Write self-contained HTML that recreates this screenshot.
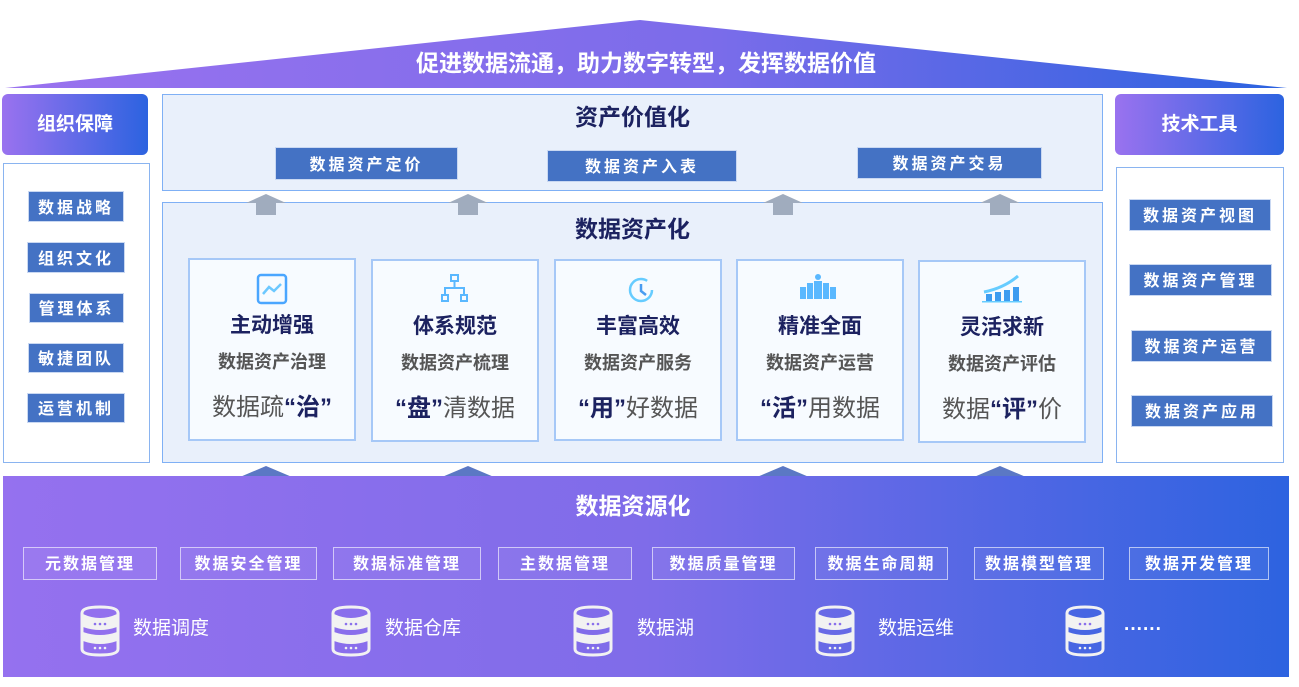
<!DOCTYPE html>
<html><head><meta charset="utf-8"><style>
*{margin:0;padding:0;box-sizing:border-box}
body{width:1299px;height:687px;background:#fff;position:relative;overflow:hidden;font-family:"Liberation Sans","Noto Sans CJK SC",sans-serif}
.a{position:absolute}
.c{display:flex;align-items:center;justify-content:center;text-align:center}
.gb{background:linear-gradient(90deg,#9a72ef,#2c63e0);border-radius:6px;color:#fff;font-weight:bold;font-size:19px;padding-bottom:4px}
.lb{border:1px solid #8ab4f0;background:#fff}
.bt{background:#4472c4;color:#fff;font-weight:bold;font-size:16px;letter-spacing:3px;border:1px solid #c9d8f2;padding-bottom:2px}
.card{border:2px solid #a6c8f7;background:#f7fbff}
.card .t1{position:absolute;left:0;right:0;top:49px;font-size:21px;font-weight:bold;color:#1c2260;text-align:center}
.card .t2{position:absolute;left:0;right:0;top:88px;font-size:18px;font-weight:bold;color:#555;text-align:center}
.card .t3{position:absolute;left:0;right:0;top:127px;font-size:24px;color:#555;text-align:center;white-space:nowrap}
.card .t3 b{color:#1c2260}
.wb{border:1px solid rgba(255,255,255,.6);color:#fff;font-weight:bold;font-size:16px;letter-spacing:2px;background:rgba(255,255,255,.06);padding-bottom:3px}
.dbt{color:#fff;font-size:19px}
</style></head><body>
<svg class="a" style="left:0;top:0" width="1299" height="90">
<defs><linearGradient id="g" x1="0" x2="1"><stop offset="0" stop-color="#9a72ef"/><stop offset="0.55" stop-color="#7b6cea"/><stop offset="1" stop-color="#2c63e0"/></linearGradient></defs>
<polygon points="5,88 640,20 1287,88" fill="url(#g)"/>
</svg>
<div class="a c" style="left:0;width:1292px;top:45px;height:32px;color:#fff;font-weight:bold;font-size:23px">促进数据流通，助力数字转型，发挥数据价值</div>

<div class="a c gb" style="left:2px;top:94px;width:146px;height:61px">组织保障</div>
<div class="a lb" style="left:3px;top:163px;width:147px;height:300px"></div>
<div class="a c bt" style="left:28px;top:191px;width:96px;height:31px">数据战略</div>
<div class="a c bt" style="left:27px;top:242px;width:98px;height:31px">组织文化</div>
<div class="a c bt" style="left:29px;top:293px;width:95px;height:30px">管理体系</div>
<div class="a c bt" style="left:28px;top:343px;width:96px;height:30px">敏捷团队</div>
<div class="a c bt" style="left:27px;top:393px;width:98px;height:30px">运营机制</div>

<div class="a c gb" style="left:1115px;top:94px;width:169px;height:61px">技术工具</div>
<div class="a lb" style="left:1116px;top:167px;width:168px;height:296px"></div>
<div class="a c bt" style="left:1129px;top:199px;width:142px;height:32px">数据资产视图</div>
<div class="a c bt" style="left:1129px;top:264px;width:143px;height:32px">数据资产管理</div>
<div class="a c bt" style="left:1131px;top:330px;width:141px;height:32px">数据资产运营</div>
<div class="a c bt" style="left:1131px;top:395px;width:142px;height:32px">数据资产应用</div>

<div class="a" style="left:162px;top:94px;width:941px;height:97px;background:#e9f0fb;border:1px solid #7fb0f5"></div>
<div class="a c" style="left:162px;width:941px;top:99px;height:32px;font-size:23px;font-weight:bold;color:#1c2260">资产价值化</div>
<div class="a c bt" style="left:275px;top:147px;width:183px;height:33px">数据资产定价</div>
<div class="a c bt" style="left:547px;top:150px;width:190px;height:32px">数据资产入表</div>
<div class="a c bt" style="left:857px;top:147px;width:185px;height:32px">数据资产交易</div>

<div class="a" style="left:162px;top:202px;width:941px;height:261px;background:#e9f0fb;border:1px solid #7fb0f5"></div>
<div class="a c" style="left:162px;width:941px;top:211px;height:32px;font-size:23px;font-weight:bold;color:#1c2260">数据资产化</div>

<svg class="a" style="left:0;top:190px" width="1299" height="30">
<g fill="#a0acbe">
<polygon points="246,13 266,4 286,13 276,13 276,25 256,25 256,13"/>
<polygon points="448,13 468,4 488,13 478,13 478,25 458,25 458,13"/>
<polygon points="763,13 783,4 803,13 793,13 793,25 773,25 773,13"/>
<polygon points="980,13 1000,4 1020,13 1010,13 1010,25 990,25 990,13"/>
</g></svg>

<div class="a card" style="left:188px;top:258px;width:168px;height:183px">
<svg class="a" style="left:66px;top:13px" width="32" height="32"><rect x="2" y="2" width="28" height="28" rx="3" fill="none" stroke="#4aa6ff" stroke-width="2.5"/><polyline points="7,21 13,14 18,18 25,11" fill="none" stroke="#6cc8ff" stroke-width="2.5"/></svg>
<div class="t1">主动增强</div><div class="t2">数据资产治理</div><div class="t3">数据疏<b>“治”</b></div></div>
<div class="a card" style="left:371px;top:259px;width:168px;height:183px">
<svg class="a" style="left:66px;top:12px" width="32" height="32"><g fill="none" stroke="#5ab8ff" stroke-width="2"><rect x="12" y="2" width="7" height="6"/><rect x="3" y="22" width="6" height="6"/><rect x="22" y="22" width="6" height="6"/><path d="M15.5 8v7M6 22v-7h19v7"/></g></svg>
<div class="t1">体系规范</div><div class="t2">数据资产梳理</div><div class="t3"><b>“盘”</b>清数据</div></div>
<div class="a card" style="left:554px;top:259px;width:168px;height:182px">
<svg class="a" style="left:70px;top:14px" width="30" height="30"><circle cx="15" cy="15" r="11" fill="none" stroke="#66ccff" stroke-width="2.5" stroke-dasharray="58 12"/><path d="M15 9v7l5 4" fill="none" stroke="#4a9cf0" stroke-width="2.5"/></svg>
<div class="t1">丰富高效</div><div class="t2">数据资产服务</div><div class="t3"><b>“用”</b>好数据</div></div>
<div class="a card" style="left:736px;top:259px;width:168px;height:182px">
<svg class="a" style="left:60px;top:12px" width="40" height="28"><g fill="#5ab8ff"><circle cx="20" cy="4" r="3"/><rect x="16" y="8" width="8" height="18"/><rect x="9" y="10" width="6" height="16"/><rect x="25" y="10" width="6" height="16"/><rect x="2" y="14" width="6" height="12"/><rect x="32" y="14" width="6" height="12"/></g></svg>
<div class="t1">精准全面</div><div class="t2">数据资产运营</div><div class="t3"><b>“活”</b>用数据</div></div>
<div class="a card" style="left:918px;top:260px;width:168px;height:183px">
<svg class="a" style="left:62px;top:12px" width="42" height="30"><path d="M2 18 Q22 14 36 2" fill="none" stroke="#66ccff" stroke-width="3"/><g fill="#3d9cf0"><rect x="4" y="20" width="6" height="7"/><rect x="13" y="18" width="6" height="9"/><rect x="22" y="16" width="6" height="11"/><rect x="31" y="13" width="6" height="14"/></g><rect x="0" y="27" width="40" height="1.5" fill="#66ccff"/></svg>
<div class="t1">灵活求新</div><div class="t2">数据资产评估</div><div class="t3">数据<b>“评”</b>价</div></div>

<svg class="a" style="left:0;top:460px" width="1299" height="220">
<defs><linearGradient id="g2" x1="0" x2="1"><stop offset="0" stop-color="#9571ef"/><stop offset="0.5" stop-color="#7f6ce9"/><stop offset="1" stop-color="#2d63e0"/></linearGradient></defs>
<g fill="#5b78c4">
<polygon points="240,17 266,6 292,17"/><polygon points="442,17 468,6 494,17"/>
<polygon points="757,17 783,6 809,17"/><polygon points="974,17 1000,6 1026,17"/>
</g>
<rect x="3" y="16" width="1286" height="201" fill="url(#g2)"/>
</svg>
<div class="a c" style="left:0;width:1266px;top:488px;height:32px;color:#fff;font-size:23px;font-weight:bold">数据资源化</div>
<div class="a c wb" style="left:23px;top:547px;width:134px;height:33px">元数据管理</div>
<div class="a c wb" style="left:180px;top:547px;width:137px;height:33px">数据安全管理</div>
<div class="a c wb" style="left:333px;top:547px;width:148px;height:33px">数据标准管理</div>
<div class="a c wb" style="left:498px;top:547px;width:134px;height:33px">主数据管理</div>
<div class="a c wb" style="left:652px;top:547px;width:143px;height:33px">数据质量管理</div>
<div class="a c wb" style="left:815px;top:547px;width:133px;height:33px">数据生命周期</div>
<div class="a c wb" style="left:974px;top:547px;width:130px;height:33px">数据模型管理</div>
<div class="a c wb" style="left:1129px;top:547px;width:140px;height:33px">数据开发管理</div>

<svg class="a" style="left:0;top:600px" width="1299" height="60">
<defs><g id="db"><path d="M2 8 Q2 2 20 2 Q38 2 38 8 V44 Q38 50 20 50 Q2 50 2 44Z" fill="none" stroke="#f2f2f2" stroke-width="3"/><path d="M3 9 Q20 17 37 9 V22 Q20 28 3 22Z" fill="#f2f2f2"/><path d="M3 27 Q20 33 37 27 V36 Q20 42 3 36Z" fill="#f2f2f2"/><g fill="#f2f2f2"><circle cx="15" cy="43" r="1.3"/><circle cx="20" cy="43" r="1.3"/><circle cx="25" cy="43" r="1.3"/></g><g fill="#8a70ec"><circle cx="15" cy="19" r="1.3"/><circle cx="20" cy="19" r="1.3"/><circle cx="25" cy="19" r="1.3"/></g></g></defs>
<use href="#db" x="80" y="5"/><use href="#db" x="331" y="5"/><use href="#db" x="573" y="5"/><use href="#db" x="815" y="5"/><use href="#db" x="1065" y="5"/>
</svg>
<div class="a dbt" style="left:133px;top:613px">数据调度</div>
<div class="a dbt" style="left:385px;top:613px">数据仓库</div>
<div class="a dbt" style="left:637px;top:613px">数据湖</div>
<div class="a dbt" style="left:878px;top:613px">数据运维</div>
<div class="a dbt" style="left:1124px;top:619px;font-weight:bold">······</div>
</body></html>
